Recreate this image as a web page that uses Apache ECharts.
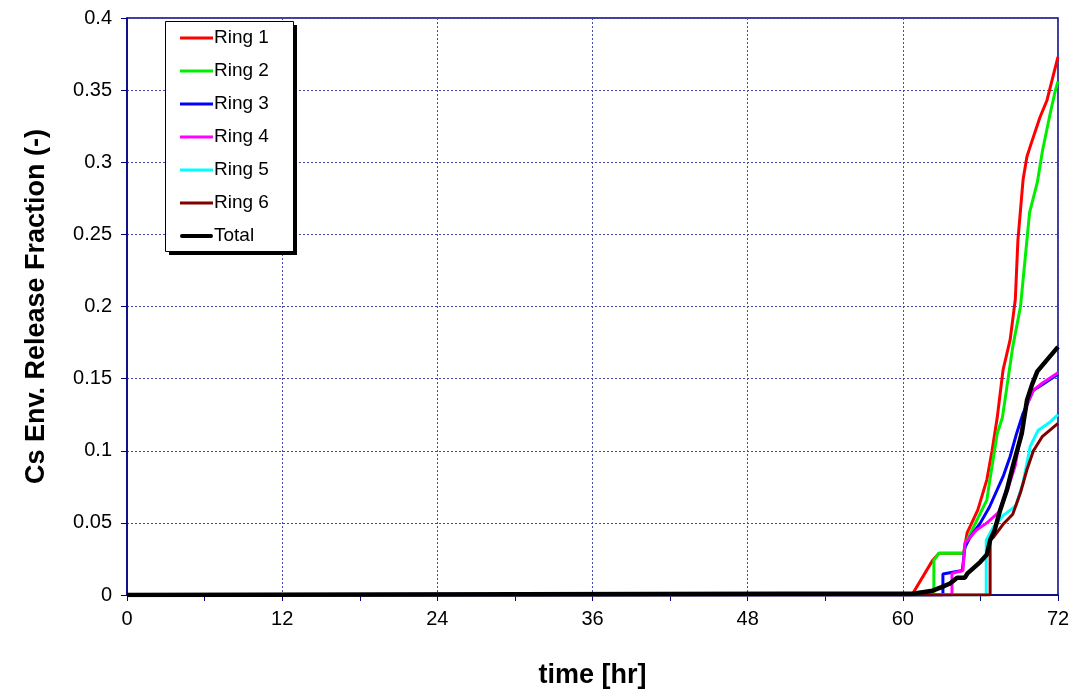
<!DOCTYPE html>
<html>
<head>
<meta charset="utf-8">
<script src="https://cdn.jsdelivr.net/npm/echarts@6/dist/echarts.min.js"></script>
<style>html,body{margin:0;padding:0;background:#fff}#c{width:1078px;height:696px}</style>
</head>
<body>
<div id="c"></div>
<script>
// Data: [time hr, release fraction]
const ring1 = [[0,0],[60.7,0],[62.3,0.024],[62.8,0.029],[64.7,0.029],[64.97,0.043],[65.8,0.059],[66.5,0.080],[66.9,0.100],[67.3,0.123],[67.75,0.156],[68.3,0.177],[68.7,0.205],[68.9,0.246],[69.3,0.288],[69.6,0.304],[70.0,0.315],[70.6,0.331],[71.15,0.343],[71.6,0.359],[72,0.373]];
const ring2 = [[0,0],[62.4,0],[62.4,0.024],[62.8,0.029],[64.7,0.029],[64.97,0.038],[66.5,0.066],[66.7,0.078],[67.3,0.112],[67.7,0.123],[68.5,0.172],[69.1,0.200],[69.5,0.237],[69.8,0.265],[70.4,0.286],[70.8,0.308],[71.4,0.334],[71.8,0.350],[72,0.356]];
const ring3 = [[0,0],[63.1,0],[63.1,0.0146],[64.6,0.017],[64.8,0.033],[65.2,0.040],[66.0,0.050],[66.7,0.061],[67.75,0.082],[68.3,0.096],[68.8,0.112],[69.3,0.126],[70.1,0.142],[70.8,0.146],[72,0.153]];
const ring4 = [[0,0],[63.8,0],[63.8,0.015],[64.65,0.017],[64.8,0.036],[65.7,0.045],[66.5,0.050],[67.5,0.058],[68.1,0.073],[68.7,0.090],[69.1,0.111],[69.6,0.132],[70.1,0.142],[70.8,0.147],[72,0.154]];
const ring5 = [[0,0],[66.45,0],[66.45,0.038],[67.0,0.047],[67.75,0.055],[68.75,0.062],[69.3,0.078],[69.85,0.103],[70.45,0.114],[71.4,0.120],[72,0.125]];
const ring6 = [[0,0],[66.75,0],[66.75,0.038],[67.0,0.040],[67.75,0.049],[68.5,0.056],[69.1,0.071],[69.6,0.087],[70.1,0.100],[70.8,0.110],[72,0.119]];
const total = [[0,0],[60.9,0.001],[62.3,0.003],[63.0,0.0055],[63.65,0.008],[64.2,0.012],[64.8,0.012],[65.0,0.015],[66.0,0.023],[66.5,0.028],[66.75,0.038],[67.1,0.045],[67.5,0.058],[68.05,0.073],[68.5,0.089],[69.2,0.112],[69.6,0.135],[70.0,0.146],[70.4,0.155],[71.15,0.163],[72,0.172]];

const seriesNames = ['Ring 1','Ring 2','Ring 3','Ring 4','Ring 5','Ring 6','Total'];
const seriesData = [ring1, ring2, ring3, ring4, ring5, ring6, total];
const colors = ['#ff0000','#00ee00','#0000ff','#ff00ff','#00ffff','#800000','#000000'];
const widths = [3,3,3,3,3,3,4.5];

const font = '"Liberation Sans", Arial, sans-serif';
const thinIcon = 'path://M0,0 M0,5.6 L33,5.6 L33,8.4 L0,8.4 Z M33,14';
const thickIcon = 'path://M0,0 M1.5,5 L31.5,5 A2,2 0 0 1 31.5,9 L1.5,9 A2,2 0 0 1 1.5,5 Z M33,14';
const chart = echarts.init(document.getElementById('c'));
const gridLine = {show:true, lineStyle:{color:'#4a4aa8', type:[2,2], width:1}};
chart.setOption({
  animation:false,
  color: colors,
  grid:{left:127, right:20, top:18, bottom:101, show:true, borderColor:'#000080', borderWidth:1.5, backgroundColor:'transparent'},
  graphic:[
    {type:'rect', left:169, top:25, z:49, shape:{width:128, height:230}, style:{fill:'#000'}},
    {type:'rect', left:165, top:21, z:50, shape:{width:128, height:230}, style:{fill:'#fff', stroke:'#000', lineWidth:1}}
  ],
  legend:{
    orient:'vertical', left:175, top:20, z:60,
    padding:[8,5,8,5],
    itemWidth:33, itemHeight:14, itemGap:13,
    textStyle:{fontFamily:font, fontSize:19, color:'#000', lineHeight:20, padding:[0,0,0,-4]},
    data: seriesNames.map((n,i)=>({name:n, icon: i===6 ? thickIcon : thinIcon, itemStyle:{color:colors[i]}}))
  },
  xAxis:{
    type:'value', min:0, max:72, interval:12,
    name:'time [hr]', nameLocation:'middle', nameGap:67,
    nameTextStyle:{fontFamily:font, fontSize:27, fontWeight:'bold', color:'#000'},
    axisLine:{show:true, onZero:false, lineStyle:{color:'#000080', width:1.5}},
    axisTick:{show:true, length:6, lineStyle:{color:'#000080'}},
    minorTick:{show:true, splitNumber:2, length:6, lineStyle:{color:'#000080'}},
    minorSplitLine:{show:false},
    axisLabel:{fontFamily:font, fontSize:20, color:'#000', margin:14},
    splitLine:gridLine
  },
  yAxis:{
    type:'value', min:0, max:0.4, interval:0.05,
    name:'Cs Env. Release Fraction (-)', nameLocation:'middle', nameGap:77,
    nameTextStyle:{fontFamily:font, fontSize:27, fontWeight:'bold', color:'#000'},
    axisLine:{show:true, lineStyle:{color:'#000080', width:1.5}},
    axisTick:{show:true, length:6, lineStyle:{color:'#000080'}},
    axisLabel:{fontFamily:font, fontSize:20, color:'#000', margin:15, formatter:v=>String(+v.toFixed(2))},
    splitLine:gridLine
  },
  series: seriesNames.map((n,i)=>({
    name:n, type:'line', data:seriesData[i], symbol:'none', showSymbol:false,
    lineStyle:{color:colors[i], width:widths[i]}, itemStyle:{color:colors[i]},
    z: i===6 ? 3 : 2, clip:true
  }))
});
</script>
</body>
</html>
